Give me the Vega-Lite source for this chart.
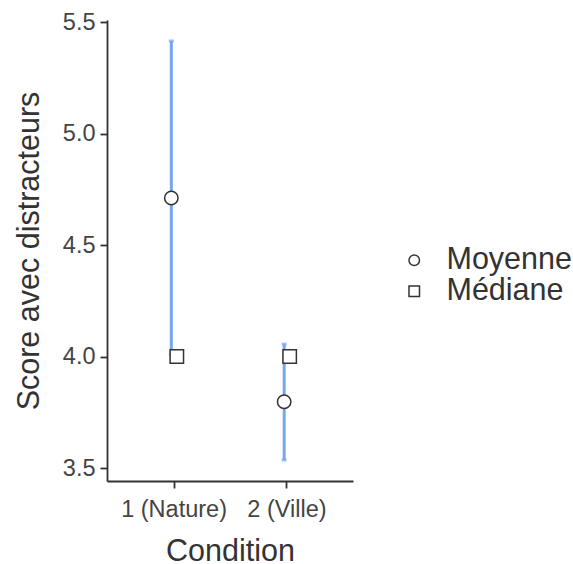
{
  "$schema": "https://vega.github.io/schema/vega-lite/v6.json",
  "width": 246,
  "height": 461,
  "padding": {"left": 14, "top": 10, "right": 0, "bottom": 0},
  "background": "white",
  "config": {
    "font": "Liberation Sans",
    "view": {"stroke": null},
    "axis": {
      "grid": false,
      "domainColor": "#333333",
      "domainWidth": 1.8,
      "tickColor": "#333333",
      "tickWidth": 1.8,
      "tickSize": 7,
      "labelFontSize": 23.5,
      "labelColor": "#444444",
      "labelFont": "Liberation Sans",
      "titleFontSize": 30.5,
      "titleFontWeight": "normal",
      "titleColor": "#333333",
      "titleFont": "Liberation Sans"
    }
  },
  "datasets": {
    "points": [
      {"Condition": "1 (Nature)", "Stat": "Moyenne", "Score": 4.711},
      {"Condition": "1 (Nature)", "Stat": "Médiane", "Score": 4.0},
      {"Condition": "2 (Ville)", "Stat": "Moyenne", "Score": 3.797},
      {"Condition": "2 (Ville)", "Stat": "Médiane", "Score": 4.0}
    ],
    "errors": [
      {"Condition": "1 (Nature)", "Stat": "Moyenne", "lower": 4.01, "upper": 5.415},
      {"Condition": "2 (Ville)", "Stat": "Moyenne", "lower": 3.536, "upper": 4.056}
    ]
  },
  "encoding": {
    "x": {
      "field": "Condition",
      "type": "nominal",
      "scale": {"type": "point", "padding": 0.59},
      "axis": {"labelAngle": 0, "labelPadding": 9, "titlePadding": 16, "title": "Condition"}
    },
    "xOffset": {
      "field": "Stat",
      "type": "nominal",
      "scale": {"domain": ["Moyenne", "Médiane"], "range": [-5, 6]}
    }
  },
  "layer": [
    {
      "data": {"name": "errors"},
      "mark": {"type": "rule", "color": "#78A5F0", "strokeWidth": 3},
      "encoding": {
        "y": {
          "field": "lower",
          "type": "quantitative",
          "scale": {"domain": [3.442, 5.509], "nice": false, "zero": false},
          "axis": {"values": [3.5, 4.0, 4.5, 5.0, 5.5], "format": ".1f", "labelPadding": 5, "titlePadding": 18, "title": "Score avec distracteurs"}
        },
        "y2": {"field": "upper"}
      }
    },
    {
      "data": {"name": "errors"},
      "mark": {"type": "tick", "color": "#78A5F0", "size": 5, "thickness": 3, "orient": "horizontal"},
      "encoding": {"y": {"field": "lower", "type": "quantitative"}}
    },
    {
      "data": {"name": "errors"},
      "mark": {"type": "tick", "color": "#78A5F0", "size": 5, "thickness": 3, "orient": "horizontal"},
      "encoding": {"y": {"field": "upper", "type": "quantitative"}}
    },
    {
      "data": {"name": "points"},
      "mark": {"type": "point", "filled": false, "fill": "white", "color": "#333333", "strokeWidth": 1.5, "opacity": 1, "size": 180},
      "encoding": {
        "y": {"field": "Score", "type": "quantitative"},
        "shape": {
          "field": "Stat",
          "type": "nominal",
          "scale": {"domain": ["Moyenne", "Médiane"], "range": ["circle", "square"]},
          "legend": {
            "title": null,
            "orient": "none",
            "legendX": 292,
            "legendY": 225,
            "labelFontSize": 30.5,
            "labelColor": "#333333",
            "labelFont": "Liberation Sans",
            "symbolSize": 110,
            "labelOffset": 17,
            "rowPadding": 0,
            "encode": {
              "symbols": {
                "update": {
                  "stroke": {"value": "#333333"},
                  "fill": {"value": "white"},
                  "strokeWidth": {"value": 1.2},
                  "opacity": {"value": 1},
                  "fillOpacity": {"value": 1},
                  "strokeOpacity": {"value": 1}
                }
              }
            }
          }
        }
      }
    }
  ]
}
